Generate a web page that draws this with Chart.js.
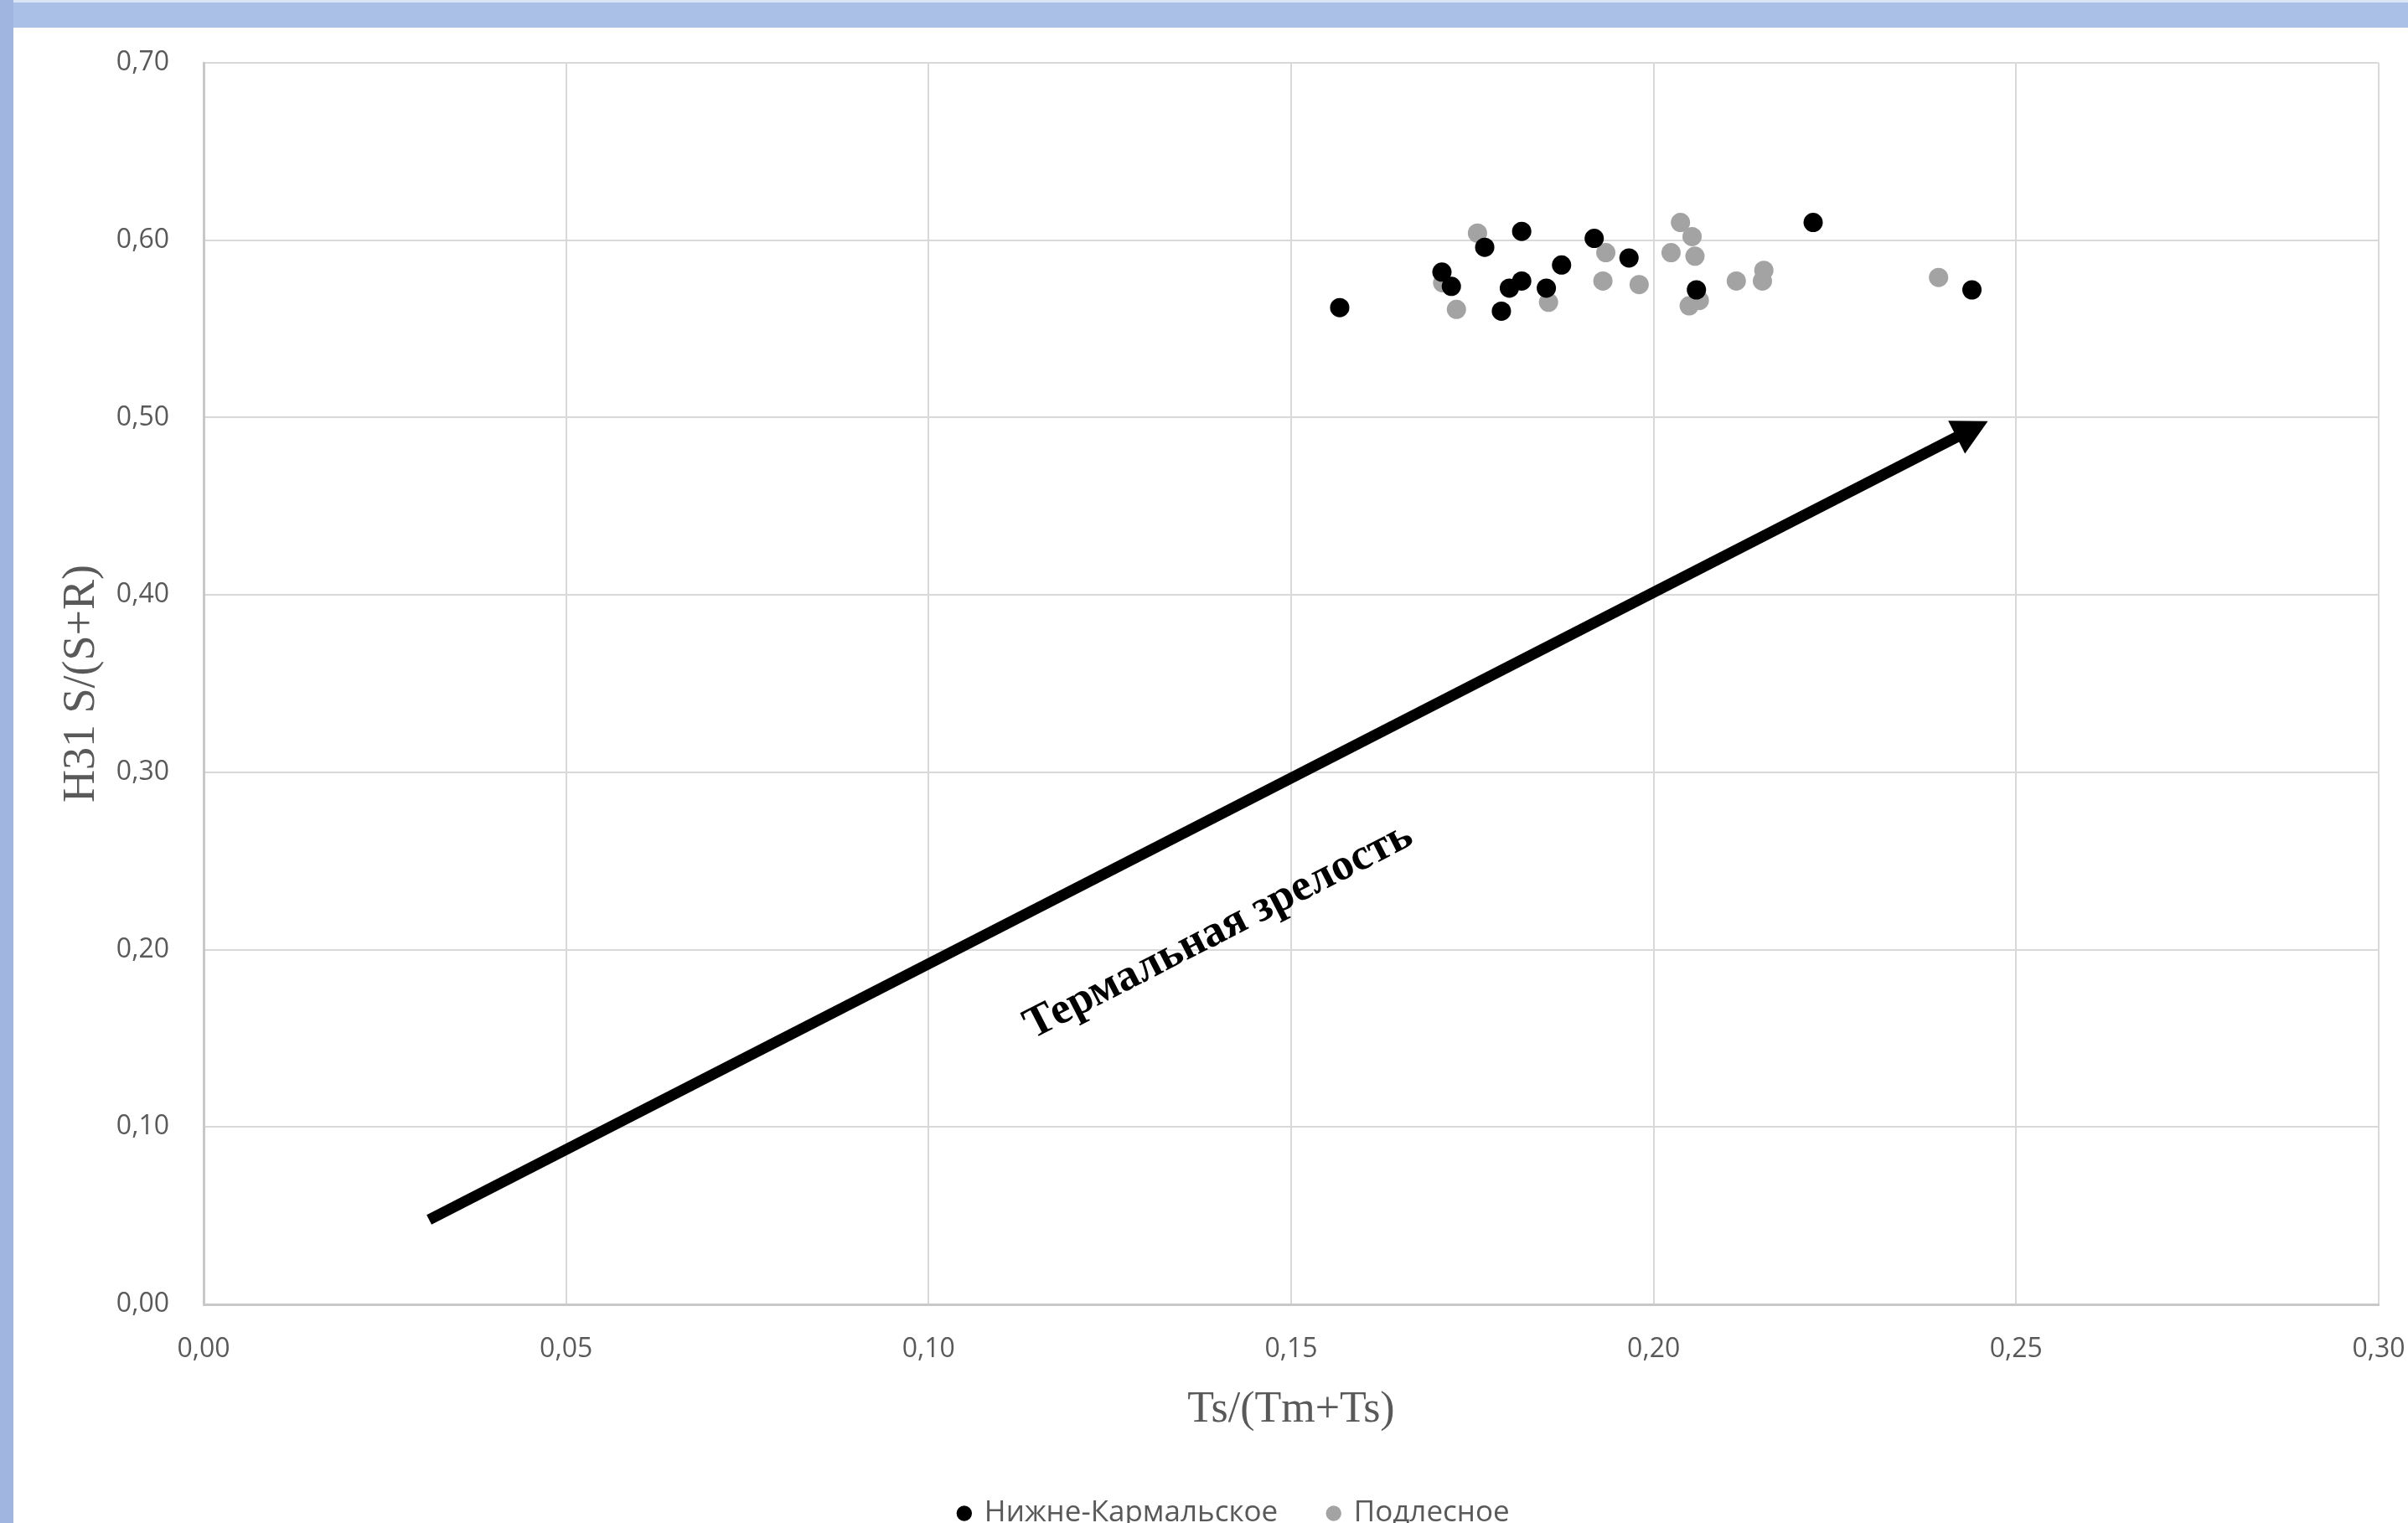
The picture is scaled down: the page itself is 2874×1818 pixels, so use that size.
<!DOCTYPE html>
<html lang="ru">
<head>
<meta charset="utf-8">
<title>Ts/(Tm+Ts) — H31 S/(S+R)</title>
<script src="https://cdn.jsdelivr.net/npm/chart.js@4.4.1/dist/chart.umd.min.js"></script>
<style>
  html, body { margin: 0; padding: 0; background: #fff; }
  body { width: 2874px; height: 1818px; position: relative; overflow: hidden; }
  .frame-top  { position: absolute; left: 0; top: 0; width: 2874px; height: 30px; background: #abc0e6; border-top: 3px solid #dbe4f4; }
  .frame-left { position: absolute; left: 0; top: 0; width: 16px; height: 1818px; background: #a0b6e1; }
  .chart-box  { position: absolute; left: 16px; top: 33px; width: 2858px; height: 1785px; }
</style>
</head>
<body>
<div class="frame-top"></div>
<div class="frame-left"></div>
<div class="chart-box"><canvas id="maturityChart"></canvas></div>

<script>
/* ─── data ─── */
const xTickLabels = ['0,00', '0,05', '0,10', '0,15', '0,20', '0,25', '0,30'];
const yTickLabels = ['0,00', '0,10', '0,20', '0,30', '0,40', '0,50', '0,60', '0,70'];
const seriesNames = ['Нижне-Кармальское', 'Подлесное'];

// Нижне-Кармальское (black)
const nkX = [0.1567, 0.1818, 0.1767, 0.1708, 0.1721, 0.1801, 0.1818, 0.1790, 0.1852, 0.1873, 0.1918, 0.1966, 0.2220, 0.2059, 0.2439];
const nkY = [0.562, 0.605, 0.596, 0.582, 0.574, 0.573, 0.577, 0.560, 0.573, 0.586, 0.601, 0.590, 0.610, 0.572, 0.572];

// Подлесное (grey)
const podX = [0.1757, 0.1709, 0.1728, 0.1855, 0.1934, 0.1930, 0.1980, 0.2037, 0.2053, 0.2024, 0.2057, 0.2063, 0.2049, 0.2114, 0.2150, 0.2152, 0.2393];
const podY = [0.604, 0.576, 0.561, 0.565, 0.593, 0.577, 0.575, 0.610, 0.602, 0.593, 0.591, 0.566, 0.563, 0.577, 0.577, 0.583, 0.579];

// annotation arrow (data coordinates)
const arrowFrom = [0.0311, 0.0477];
const arrowTo = [0.2461, 0.4980];
const arrowLabel = 'Термальная зрелость';
const arrowLabelAt = [0.1400, 0.2105];

const toPoints = (xs, ys) => xs.map((x, i) => ({ x: x, y: ys[i] }));

/* ─── arrow + label drawn through the scales ─── */
const arrowPlugin = {
  id: 'maturityArrow',
  beforeDatasetsDraw(chart) {
    const { ctx, scales: { x, y } } = chart;
    const x0 = x.getPixelForValue(arrowFrom[0]), y0 = y.getPixelForValue(arrowFrom[1]);
    const x1 = x.getPixelForValue(arrowTo[0]),   y1 = y.getPixelForValue(arrowTo[1]);
    const ang = Math.atan2(y1 - y0, x1 - x0);
    const headLen = 42, headHalf = 22;
    const bx = x1 - headLen * Math.cos(ang), by = y1 - headLen * Math.sin(ang);

    ctx.save();
    ctx.strokeStyle = '#000';
    ctx.fillStyle = '#000';
    ctx.lineWidth = 13;
    ctx.lineCap = 'butt';
    ctx.beginPath();
    ctx.moveTo(x0, y0);
    ctx.lineTo(bx + 2 * Math.cos(ang), by + 2 * Math.sin(ang));
    ctx.stroke();

    ctx.beginPath();
    ctx.moveTo(x1, y1);
    ctx.lineTo(bx + headHalf * Math.sin(ang), by - headHalf * Math.cos(ang));
    ctx.lineTo(bx - headHalf * Math.sin(ang), by + headHalf * Math.cos(ang));
    ctx.closePath();
    ctx.fill();

    // label along the arrow
    const tx = x.getPixelForValue(arrowLabelAt[0]), ty = y.getPixelForValue(arrowLabelAt[1]);
    ctx.translate(tx, ty);
    ctx.rotate(ang);
    ctx.font = 'bold 53px "Liberation Serif", "Times New Roman", serif';
    ctx.textAlign = 'center';
    ctx.textBaseline = 'middle';
    ctx.fillText(arrowLabel, 0, 0);
    ctx.restore();
  }
};

const tickFont = { family: '"Open Sans", sans-serif', size: 32 };
const serif = '"Liberation Serif", "Times New Roman", serif';

new Chart(document.getElementById('maturityChart'), {
  type: 'scatter',
  data: {
    datasets: [
      {
        label: seriesNames[0],
        data: toPoints(nkX, nkY),
        backgroundColor: '#000000',
        borderColor: '#000000',
        borderWidth: 0,
        pointRadius: 11.5,
        pointHoverRadius: 11.5,
        pointStyle: 'circle'
      },
      {
        label: seriesNames[1],
        data: toPoints(podX, podY),
        backgroundColor: '#a3a3a3',
        borderColor: '#a3a3a3',
        borderWidth: 0,
        pointRadius: 11.5,
        pointHoverRadius: 11.5,
        pointStyle: 'circle'
      }
    ]
  },
  options: {
    responsive: true,
    maintainAspectRatio: false,
    animation: false,
    devicePixelRatio: 1,
    layout: { padding: { top: 42, right: 35, left: 91, bottom: -16 } },
    plugins: {
      tooltip: { enabled: false },
      legend: {
        position: 'bottom',
        labels: {
          usePointStyle: true,
          pointStyle: 'circle',
          boxWidth: 13,
          boxHeight: 13,
          padding: 60,
          color: '#595959',
          font: { family: '"Open Sans", sans-serif', size: 35 }
        }
      }
    },
    scales: {
      x: {
        type: 'linear',
        min: 0,
        max: 0.3,
        ticks: {
          stepSize: 0.05,
          color: '#595959',
          font: tickFont,
          padding: 35,
          maxRotation: 0,
          callback: (v, i) => xTickLabels[i]
        },
        grid: { color: '#d9d9d9', lineWidth: 2, drawTicks: false },
        border: { display: true, color: '#c8c8c8', width: 3 },
        title: {
          display: true,
          text: 'Ts/(Tm+Ts)',
          color: '#595959',
          font: { family: serif, size: 52 },
          padding: { top: 0, bottom: 14 }
        },
        afterFit: scale => {
          scale.height = 172;
          scale.paddingLeft = 0;
          scale.paddingRight = 0;
        }
      },
      y: {
        type: 'linear',
        min: 0,
        max: 0.7,
        ticks: {
          stepSize: 0.1,
          color: '#595959',
          font: tickFont,
          padding: 41,
          callback: (v, i) => yTickLabels[i]
        },
        grid: { color: '#d9d9d9', lineWidth: 2, drawTicks: false },
        border: { display: true, color: '#c8c8c8', width: 3 },
        title: {
          display: true,
          text: 'H31 S/(S+R)',
          color: '#595959',
          font: { family: serif, size: 54 },
          padding: { top: -42, bottom: 0 }
        },
        afterFit: scale => {
          scale.width = 136;
          scale.paddingTop = 0;
          scale.paddingBottom = 0;
        }
      }
    }
  },
  plugins: [arrowPlugin]
});
</script>
</body>
</html>
